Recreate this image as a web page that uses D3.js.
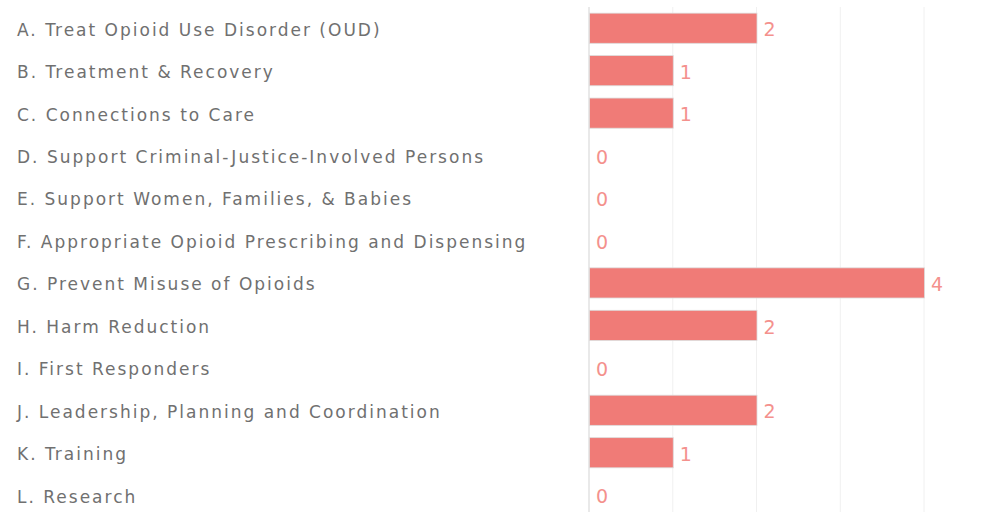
<!DOCTYPE html>
<html>
<head>
<meta charset="utf-8">
<script src="https://cdn.jsdelivr.net/npm/d3@7"></script>
<style>
  body { margin: 0; background: #fff; }
</style>
</head>
<body>
<div id="chart"></div>
<script>
// kategorier og værdier
var categories = [
  "A. Treat Opioid Use Disorder (OUD)",
  "B. Treatment & Recovery",
  "C. Connections to Care",
  "D. Support Criminal-Justice-Involved Persons",
  "E. Support Women, Families, & Babies",
  "F. Appropriate Opioid Prescribing and Dispensing",
  "G. Prevent Misuse of Opioids",
  "H. Harm Reduction",
  "I. First Responders",
  "J. Leadership, Planning and Coordination",
  "K. Training",
  "L. Research"
];
var counts = [2, 1, 1, 0, 0, 0, 4, 2, 0, 2, 1, 0];
var gridTicks = [1, 2, 3, 4];

var width = 992, height = 512;

var svg = d3.select("#chart")
  .append("svg")
  .attr("width", width)
  .attr("height", height);

var x = d3.scaleLinear()
  .domain([0, 4])
  .range([589, 924]);

var y = d3.scaleBand()
  .domain(categories)
  .range([7, 516.4])
  .paddingInner(0.29)
  .paddingOuter(0.145);

// gitterlinjer
svg.append("g")
  .selectAll("line")
  .data(gridTicks)
  .enter()
  .append("line")
  .attr("x1", function (d) { return x(d); })
  .attr("x2", function (d) { return x(d); })
  .attr("y1", 7)
  .attr("y2", height)
  .attr("stroke", "#f0f0f0")
  .attr("stroke-width", 1);

// nul-akse
svg.append("line")
  .attr("x1", x(0))
  .attr("x2", x(0))
  .attr("y1", 7)
  .attr("y2", height)
  .attr("stroke", "#e2e2e2")
  .attr("stroke-width", 1.5);

// kategori-tekster
svg.append("g")
  .selectAll("text")
  .data(categories)
  .enter()
  .append("text")
  .attr("x", 17)
  .attr("y", function (d) { return y(d) + y.bandwidth() / 2 + 1.5; })
  .attr("dy", "0.35em")
  .style("font-family", "'DejaVu Sans', sans-serif")
  .style("font-size", "17px")
  .style("letter-spacing", "2px")
  .style("fill", "#707070")
  .text(function (d) { return d; });

// søjler
svg.append("g")
  .selectAll("rect")
  .data(counts)
  .enter()
  .append("rect")
  .attr("x", x(0) + 0.5)
  .attr("y", function (d, i) { return y(categories[i]); })
  .attr("width", function (d) { return x(d) - x(0); })
  .attr("height", y.bandwidth())
  .attr("fill", "#f07b77")
  .attr("stroke", "#dcdcdc")
  .attr("stroke-width", 0.8);

// værdi-etiketter
svg.append("g")
  .selectAll("text")
  .data(counts)
  .enter()
  .append("text")
  .attr("x", function (d) { return x(d) + 7; })
  .attr("y", function (d, i) { return y(categories[i]) + y.bandwidth() / 2 + 1.5; })
  .attr("dy", "0.35em")
  .style("font-family", "'DejaVu Sans', sans-serif")
  .style("font-size", "19px")
  .style("fill", "#f4918d")
  .text(function (d) { return d; });
</script>
</body>
</html>
